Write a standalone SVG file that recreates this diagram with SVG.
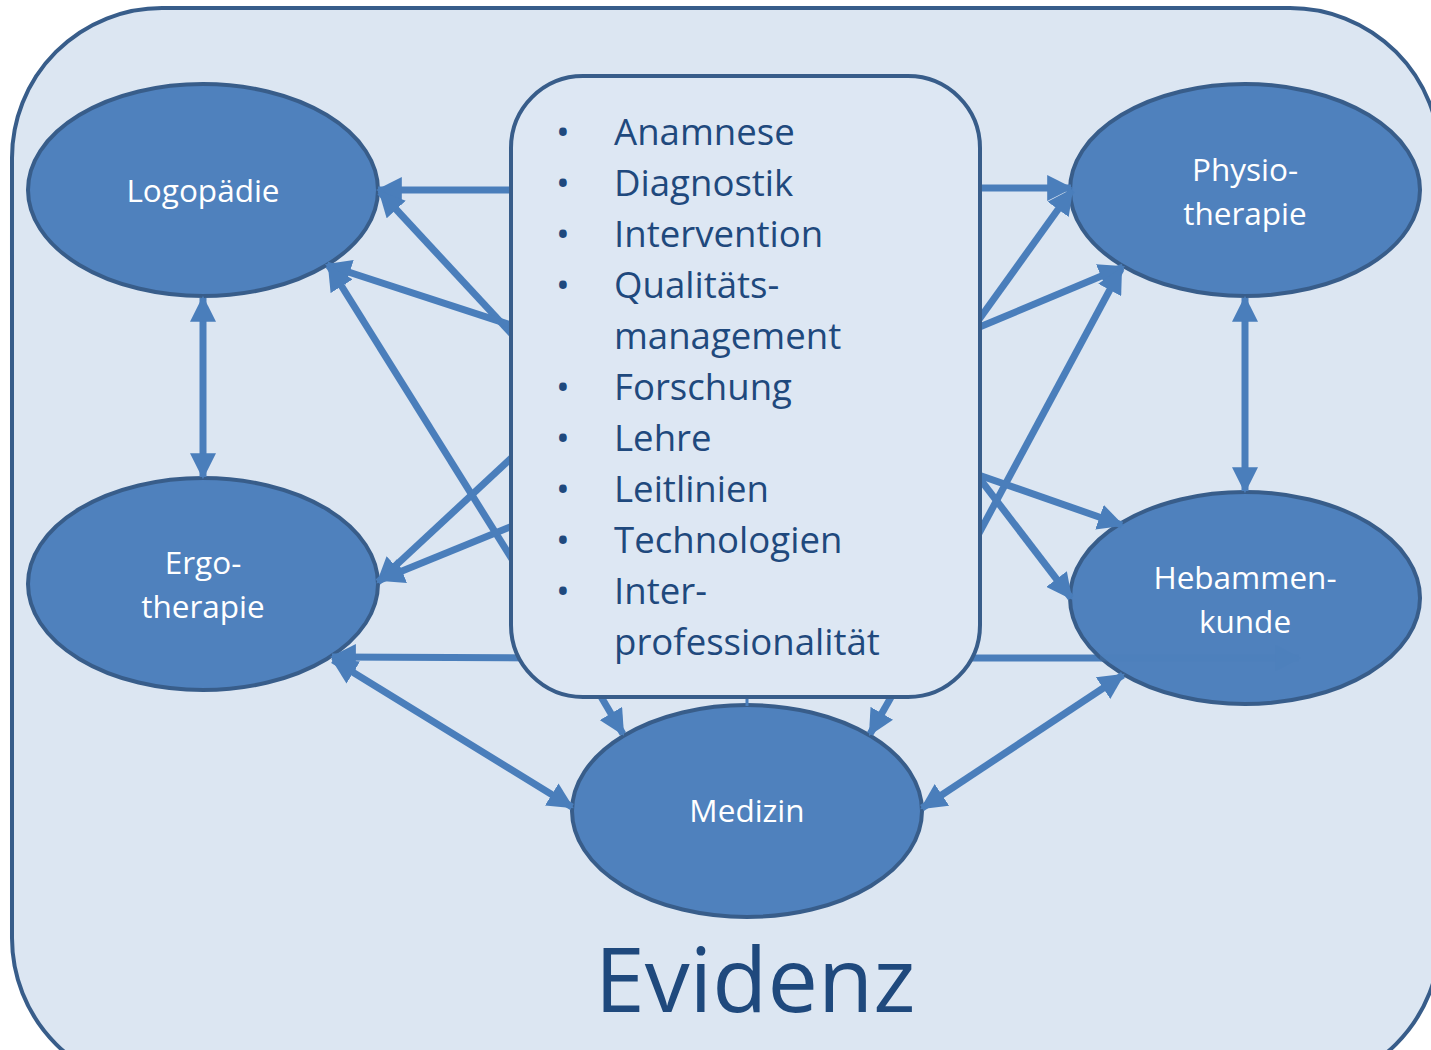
<svg xmlns="http://www.w3.org/2000/svg" width="1431" height="1050" viewBox="0 0 1431 1050">
<defs>
<marker id="ah" markerUnits="userSpaceOnUse" markerWidth="26" markerHeight="26" viewBox="0 0 24 24" refX="22" refY="12" orient="auto-start-reverse">
<path d="M0,0 L24,12 L0,24 z" fill="#4a7ebb"/>
</marker>
<style>
.c{stroke:#4a7ebb;stroke-width:7;fill:none}
.e{fill:#4f81bd;stroke:#385d8a;stroke-width:4}
.lbl{font-family:"Open Sans","Liberation Sans",sans-serif;font-size:31.5px;fill:#ffffff;text-anchor:middle}
.li{font-family:"Open Sans","Liberation Sans",sans-serif;font-size:36.6px;fill:#1f497d}
</style>
</defs>
<rect x="0" y="0" width="1431" height="1050" fill="#ffffff"/>
<rect id="frame" x="12" y="8" width="1428" height="1080" rx="150" ry="150" fill="#dce6f2" stroke="#385d8a" stroke-width="4"/>
<g id="hebammen-under">
<line class="c" x1="960" y1="658" x2="1104" y2="658"/>
</g>
<g id="logopaedie"><ellipse class="e" cx="203" cy="190" rx="175" ry="106"/><text class="lbl" x="203" y="202">Logopädie</text></g>
<g id="ergotherapie"><ellipse class="e" cx="203" cy="584" rx="175" ry="106"/><text class="lbl" x="203" y="574">Ergo-</text><text class="lbl" x="203" y="618">therapie</text></g>
<g id="physiotherapie"><ellipse class="e" cx="1245" cy="190" rx="175" ry="106"/><text class="lbl" x="1245" y="181">Physio-</text><text class="lbl" x="1245" y="225">therapie</text></g>
<g id="hebammenkunde"><ellipse class="e" cx="1245" cy="598" rx="175" ry="106"/><text class="lbl" x="1245" y="589">Hebammen-</text><text class="lbl" x="1245" y="633">kunde</text></g>
<g id="medizin"><ellipse class="e" cx="747" cy="811" rx="175" ry="106"/><text class="lbl" x="747" y="822">Medizin</text></g>
<g id="connectors">
<line class="c" x1="530" y1="190" x2="378" y2="190" marker-end="url(#ah)"/>
<line class="c" x1="520" y1="343" x2="380" y2="192" marker-end="url(#ah)"/>
<line class="c" x1="520" y1="328" x2="327" y2="265" marker-end="url(#ah)"/>
<line class="c" x1="520" y1="572" x2="329" y2="266" marker-end="url(#ah)"/>
<line class="c" x1="520" y1="450" x2="378" y2="582" marker-end="url(#ah)"/>
<line class="c" x1="520" y1="523" x2="380" y2="580" marker-end="url(#ah)"/>
<line class="c" x1="540" y1="658" x2="332" y2="657" marker-end="url(#ah)"/>
<line class="c" x1="333" y1="660" x2="572" y2="807" marker-start="url(#ah)" marker-end="url(#ah)"/>
<line class="c" x1="590" y1="678" x2="623" y2="734" marker-end="url(#ah)"/>
<line class="c" x1="902" y1="678" x2="870" y2="734" marker-end="url(#ah)"/>
<line class="c" x1="922" y1="808" x2="1123" y2="675" marker-start="url(#ah)" marker-end="url(#ah)"/>
<line class="c" x1="960" y1="188" x2="1071" y2="188" marker-end="url(#ah)"/>
<line class="c" x1="970" y1="332" x2="1072" y2="190" marker-end="url(#ah)"/>
<line class="c" x1="970" y1="331" x2="1123" y2="267" marker-end="url(#ah)"/>
<line class="c" x1="970" y1="550" x2="1121" y2="269" marker-end="url(#ah)"/>
<line class="c" x1="970" y1="472" x2="1122" y2="525" marker-end="url(#ah)"/>
<line class="c" x1="970" y1="466" x2="1071" y2="598" marker-end="url(#ah)"/>
<line class="c" x1="203" y1="298" x2="203" y2="477" marker-start="url(#ah)" marker-end="url(#ah)"/>
<line class="c" x1="1245" y1="298" x2="1245" y2="491" marker-start="url(#ah)" marker-end="url(#ah)"/>
<line class="c" x1="747" y1="690" x2="747" y2="706" style="stroke-width:3"/>
<g opacity="0.3"><line class="c" x1="1100" y1="658" x2="1299" y2="658" marker-end="url(#ah)"/></g>
</g>
<g id="center-box">
<rect x="511" y="76" width="469" height="621" rx="72" ry="72" fill="#dde7f3" stroke="#385d8a" stroke-width="4"/>
<g class="li">
<text x="556" y="145">•</text><text x="614" y="145">Anamnese</text>
<text x="556" y="196">•</text><text x="614" y="196">Diagnostik</text>
<text x="556" y="247">•</text><text x="614" y="247">Intervention</text>
<text x="556" y="298">•</text><text x="614" y="298">Qualitäts-</text>
<text x="614" y="349">management</text>
<text x="556" y="400">•</text><text x="614" y="400">Forschung</text>
<text x="556" y="451">•</text><text x="614" y="451">Lehre</text>
<text x="556" y="502">•</text><text x="614" y="502">Leitlinien</text>
<text x="556" y="553">•</text><text x="614" y="553">Technologien</text>
<text x="556" y="604">•</text><text x="614" y="604">Inter-</text>
<text x="614" y="655">professionalität</text>
</g>
</g>
<text x="755" y="1012" font-family="'Open Sans','Liberation Sans',sans-serif" font-size="90" fill="#1f497d" text-anchor="middle">Evidenz</text>
</svg>
